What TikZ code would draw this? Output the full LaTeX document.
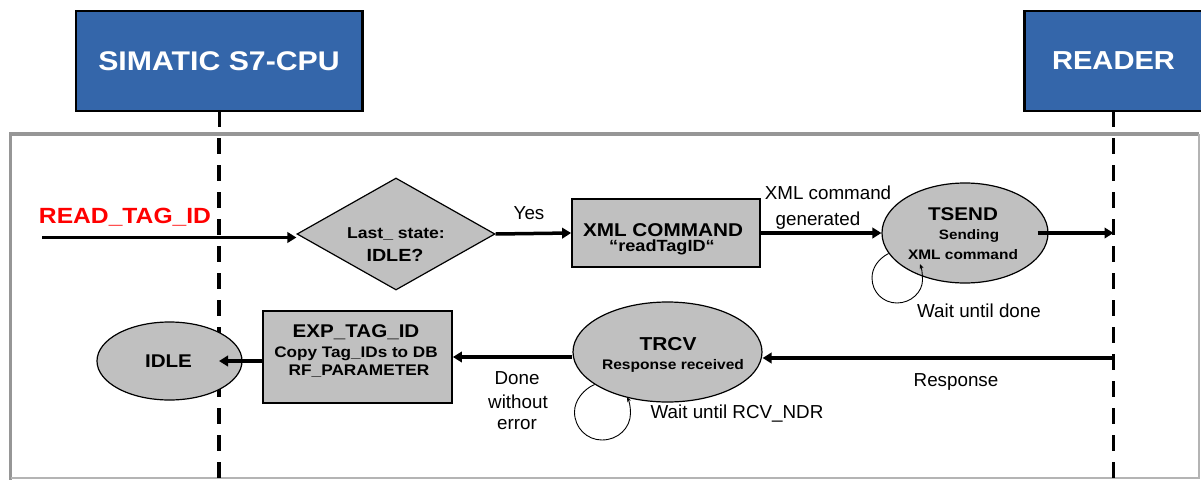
\documentclass[tikz,border=0pt]{standalone}
\usepackage{fontspec}
\setmainfont{Liberation Sans}
\newfontfamily\bfwidefam{Liberation Sans}[FakeStretch=1.12]
\usetikzlibrary{shapes.geometric,arrows.meta}
\definecolor{hdrblue}{RGB}{52,102,170}
\definecolor{nodegray}{RGB}{192,192,192}
\definecolor{framegray}{RGB}{150,150,150}
\definecolor{framelight}{RGB}{180,180,180}
\newcommand\txtline[6]{\pgfmathsetmacro\txtbase{#5+0.358*#3}\node[#2=#3,anchor=base] (#1) at (#4,\txtbase) {#6};}
\begin{document}
\begin{tikzpicture}[x=1pt,y=-1pt,
 hdr/.style={draw=black, line width=2.4pt, fill=hdrblue, text=white, inner sep=0pt, minimum height=99.6pt},
 decision/.style={diamond, draw=black, line width=1.2pt, fill=nodegray, inner sep=0pt},
 procbox/.style={rectangle, draw=black, line width=1.8pt, fill=nodegray, inner sep=0pt},
 stateell/.style={ellipse, draw=black, line width=1.2pt, fill=nodegray, inner sep=0pt},
 flow/.style={line width=3.5pt, -{Triangle[length=9pt,width=10.5pt]}},
 selfloop/.style={line width=0.9pt, -{Stealth[length=5pt,width=4pt]}},
 lifeline/.style={line width=3pt},
 lifedash/.style={line width=3.6pt, dash pattern=on 16pt off 11pt},
 boldtxt/.style={inner sep=0pt, font=\bfwidefam\bfseries\fontsize{#1}{#1}\selectfont},
 plaintxt/.style={inner sep=0pt, font=\fontsize{#1}{#1}\selectfont},
 signal/.style={boldtxt=#1, text=red}]
\useasboundingbox (0,0) rectangle (1201,479);
\clip (0,0) rectangle (1201,479);

% frame
\draw[framegray, line width=3.6pt] (10.5,482) -- (10.5,134) -- (1199,134);
\draw[framelight, line width=1.2pt] (1199,134) -- (1199,478) -- (10.5,478);

% header boxes
\node[hdr, minimum width=286.6pt, font=\bfwidefam\bfseries\fontsize{27}{27}\selectfont] (cpu) at (219,61) {SIMATIC S7-CPU};
\node[hdr, minimum width=178pt, font=\bfwidefam\bfseries\fontsize{26}{26}\selectfont] (reader) at (1113.5,61) {READER};

% lifelines
\draw[lifeline] (cpu.south) -- (cpu.south |- 0,127);
\draw[lifedash] (cpu.south |- 0,138) -- (cpu.south |- 0,485);
\draw[lifeline] (reader.south) -- (reader.south |- 0,127);
\draw[lifedash] (reader.south |- 0,138) -- (reader.south |- 0,485);

% state nodes
\node[decision, minimum width=198pt, minimum height=112pt] (dia) at (396,234) {};
\node[procbox, minimum width=188pt, minimum height=68pt] (xml) at (666,233) {};
\node[stateell, minimum width=166pt, minimum height=100pt] (tsend) at (965,233) {};
\node[stateell, minimum width=145pt, minimum height=78pt] (idle) at (169.5,361) {};
\node[procbox, minimum width=189pt, minimum height=92pt] (exp) at (357.5,357) {};
\node[stateell, minimum width=189pt, minimum height=100pt] (trcv) at (667.5,352) {};

% connectors
\coordinate (sigstart) at (42,237.5);
\draw[flow] (sigstart) -- (sigstart -| dia.west);
\draw[flow] (dia.east) -- (xml.west);
\draw[flow] (xml.east) -- (tsend.west);
\coordinate (sendtip) at (reader.south |- 0,233);
\draw[flow] ([xshift=-11pt]tsend.east) -- (sendtip);
\coordinate (respstart) at (reader.south |- 0,358);
\draw[flow] (respstart) -- (respstart -| trcv.east);
\draw[flow] (trcv.west |- 0,357) -- (exp.east |- 0,357);
\coordinate (idletip) at (cpu.south |- 0,361);
\draw[flow] (idletip -| exp.west) -- (idletip);

% self loops
\draw[selfloop] (tsend.195) .. controls (878,259) and (872,268) .. (872,278)
  .. controls (872,292) and (883,303) .. (897,303)
  .. controls (911,303) and (922.5,292) .. (922.5,280)
  .. controls (922.5,273) and (921.5,268) .. (920,264);
\draw[selfloop] (trcv.204) .. controls (584,389) and (574.5,400) .. (574.5,412)
  .. controls (574.5,428) and (587,440) .. (602,440)
  .. controls (618,440) and (630.5,428) .. (630.5,413)
  .. controls (630.5,406) and (629,401) .. (627,397);

% texts
\txtline{sig}{signal}{22}{125}{216}{READ\_TAG\_ID}
\txtline{diaA}{boldtxt}{15.7}{396}{233}{Last\_ state:}
\txtline{diaB}{boldtxt}{17.6}{395}{255.5}{IDLE?}
\txtline{yes}{plaintxt}{18.8}{529}{212.5}{Yes}
\txtline{xmlA}{boldtxt}{18.5}{663}{230}{XML COMMAND}
\txtline{xmlB}{boldtxt}{16.2}{662}{246}{“readTagID“}
\txtline{genA}{plaintxt}{18.8}{828}{193}{XML command}
\txtline{genB}{plaintxt}{18.8}{818}{219}{generated}
\txtline{tsA}{boldtxt}{18.4}{963}{214}{TSEND}
\txtline{tsB}{boldtxt}{13.6}{969}{235}{Sending}
\txtline{tsC}{boldtxt}{13.8}{963}{255}{XML command}
\txtline{waitA}{plaintxt}{18.8}{979}{311}{Wait until done}
\txtline{idleT}{boldtxt}{18.4}{168.5}{360.5}{IDLE}
\txtline{expA}{boldtxt}{18.4}{356}{330.5}{EXP\_TAG\_ID}
\txtline{expB}{boldtxt}{15.3}{356}{352.5}{Copy Tag\_IDs to DB}
\txtline{expC}{boldtxt}{15.4}{359}{370}{RF\_PARAMETER}
\txtline{doneA}{plaintxt}{18.8}{517}{378}{Done}
\txtline{doneB}{plaintxt}{18.8}{518}{402}{without}
\txtline{doneC}{plaintxt}{18.8}{517}{423}{error}
\txtline{trA}{boldtxt}{18.7}{668}{344}{TRCV}
\txtline{trB}{boldtxt}{13.9}{673}{364.5}{Response received}
\txtline{waitB}{plaintxt}{18.8}{737}{412}{Wait until RCV\_NDR}
\txtline{resp}{plaintxt}{18.8}{956}{380}{Response}
\end{tikzpicture}
\end{document}
